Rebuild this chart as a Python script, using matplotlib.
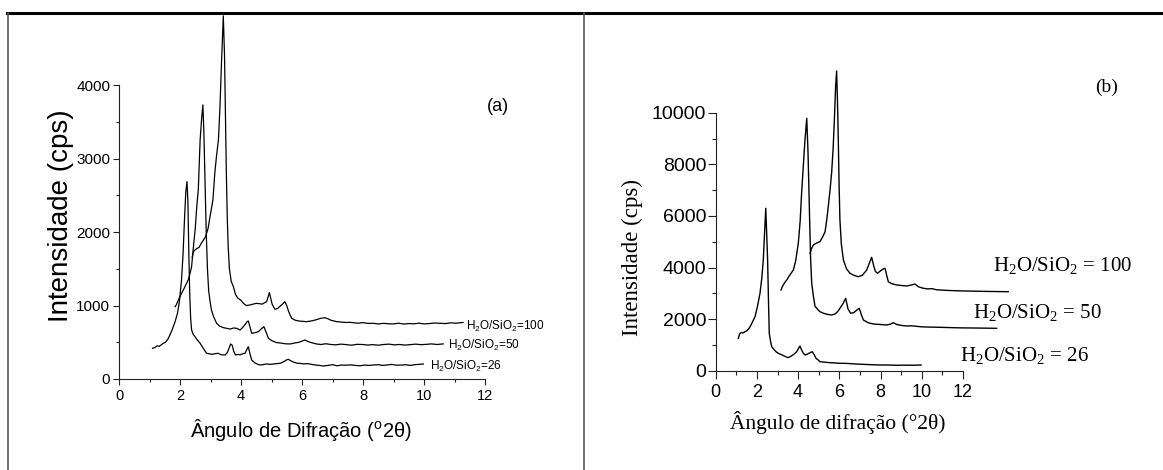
import matplotlib
matplotlib.use("Agg")
import matplotlib.pyplot as plt
from matplotlib.lines import Line2D
from matplotlib.ticker import MultipleLocator

plt.rcParams['font.family'] = ['Liberation Sans', 'DejaVu Sans']
plt.rcParams['mathtext.default'] = 'regular'

SERIF = ['Liberation Serif', 'DejaVu Serif']

# ---- panel (a): XRD patterns (2theta, cps) ----
a_26 = [(1.10, 418), (1.18, 430), (1.25, 452), (1.32, 445), (1.40, 470), (1.45, 486), (1.52, 500),
        (1.60, 540), (1.67, 599), (1.75, 680), (1.84, 781), (1.92, 900), (1.98, 1053), (2.05, 1349),
        (2.10, 1700), (2.15, 2200), (2.19, 2550), (2.23, 2688), (2.26, 2400), (2.29, 1700),
        (2.32, 1150), (2.35, 820), (2.38, 668), (2.43, 610), (2.49, 577), (2.57, 530), (2.66, 486),
        (2.76, 420), (2.87, 350), (2.95, 345), (3.05, 335), (3.15, 345), (3.25, 350), (3.35, 330),
        (3.48, 327), (3.55, 360), (3.61, 420), (3.66, 477), (3.71, 460), (3.76, 380), (3.82, 327),
        (3.90, 335), (3.98, 330), (4.06, 345), (4.13, 350), (4.19, 400), (4.24, 440), (4.29, 350),
        (4.35, 259), (4.45, 220), (4.55, 200), (4.62, 191), (4.72, 195), (4.83, 205), (4.95, 200),
        (5.06, 204), (5.18, 210), (5.30, 215), (5.42, 240), (5.50, 262), (5.56, 268), (5.62, 250),
        (5.72, 230), (5.84, 215), (5.94, 213), (6.05, 205), (6.18, 210), (6.30, 200), (6.45, 190),
        (6.58, 185), (6.70, 177), (6.85, 185), (7.00, 195), (7.15, 180), (7.30, 190), (7.45, 188),
        (7.60, 192), (7.75, 185), (7.90, 180), (8.05, 190), (8.20, 185), (8.34, 191), (8.50, 195),
        (8.65, 185), (8.80, 192), (8.95, 198), (9.10, 188), (9.25, 190), (9.40, 194), (9.55, 185),
        (9.70, 195), (9.85, 200), (9.98, 204)]

a_50 = [(1.84, 985), (1.88, 1010), (1.95, 1080), (2.03, 1150), (2.11, 1213), (2.20, 1290),
        (2.27, 1349), (2.33, 1440), (2.38, 1530), (2.44, 1800), (2.50, 2050), (2.55, 2350),
        (2.60, 2575), (2.66, 3256), (2.71, 3550), (2.75, 3733), (2.78, 3400), (2.82, 2700),
        (2.86, 2000), (2.90, 1500), (2.94, 1200), (2.98, 1076), (3.03, 940), (3.10, 850), (3.20, 759),
        (3.30, 720), (3.42, 700), (3.53, 690), (3.65, 680), (3.76, 695), (3.86, 690), (3.97, 667),
        (4.05, 700), (4.13, 740), (4.20, 781), (4.24, 790), (4.30, 700), (4.35, 622), (4.45, 630),
        (4.57, 645), (4.66, 680), (4.75, 713), (4.82, 640), (4.90, 554), (5.02, 520), (5.17, 495),
        (5.30, 490), (5.45, 480), (5.61, 477), (5.75, 490), (5.90, 500), (6.02, 520), (6.10, 531),
        (6.20, 510), (6.35, 490), (6.48, 477), (6.62, 470), (6.78, 480), (6.95, 470), (7.10, 465),
        (7.28, 475), (7.45, 468), (7.62, 460), (7.80, 472), (7.98, 470), (8.15, 462), (8.32, 468),
        (8.50, 460), (8.68, 470), (8.85, 475), (9.02, 465), (9.20, 470), (9.38, 462), (9.55, 468),
        (9.72, 475), (9.90, 468), (10.08, 472), (10.25, 478), (10.42, 470), (10.63, 478)]

a_100 = [(2.40, 1660), (2.44, 1735), (2.50, 1760), (2.56, 1780), (2.62, 1790), (2.70, 1850),
         (2.78, 1900), (2.84, 1939), (2.92, 2050), (3.00, 2250), (3.08, 2439), (3.14, 2800),
         (3.20, 3050), (3.26, 3256), (3.31, 3700), (3.36, 4300), (3.42, 4946), (3.46, 4400),
         (3.49, 3600), (3.52, 2800), (3.55, 2200), (3.58, 1800), (3.62, 1500), (3.68, 1330),
         (3.75, 1258), (3.82, 1150), (3.90, 1100), (3.99, 1076), (4.08, 1030), (4.18, 1000),
         (4.29, 1008), (4.40, 1020), (4.50, 1030), (4.60, 1026), (4.70, 1020), (4.78, 1040),
         (4.84, 1053), (4.89, 1120), (4.93, 1176), (4.98, 1090), (5.02, 1020), (5.11, 950),
         (5.20, 960), (5.28, 990), (5.36, 1020), (5.44, 1053), (5.50, 1000), (5.56, 920), (5.66, 827),
         (5.78, 800), (5.90, 790), (6.02, 785), (6.15, 781), (6.30, 790), (6.45, 805), (6.60, 825),
         (6.75, 835), (6.85, 820), (6.95, 800), (7.05, 790), (7.14, 781), (7.30, 775), (7.45, 770),
         (7.57, 772), (7.70, 765), (7.85, 760), (8.00, 768), (8.17, 757), (8.34, 759), (8.50, 750),
         (8.67, 758), (8.84, 752), (9.00, 750), (9.17, 760), (9.34, 748), (9.50, 755), (9.67, 752),
         (9.84, 760), (10.00, 750), (10.17, 755), (10.34, 762), (10.52, 759), (10.70, 755),
         (10.88, 765), (11.05, 760), (11.28, 770)]

# ---- panel (b) ----
b_26 = [(1.10, 1256), (1.15, 1400), (1.18, 1450), (1.25, 1480), (1.32, 1460), (1.42, 1512),
        (1.50, 1540), (1.58, 1600), (1.67, 1705), (1.78, 1880), (1.91, 2093), (2.03, 2500),
        (2.15, 3000), (2.24, 3600), (2.31, 4290), (2.37, 5300), (2.43, 6294), (2.48, 5200),
        (2.52, 4290), (2.56, 2800), (2.60, 1450), (2.66, 1150), (2.72, 930), (2.85, 800), (2.95, 720),
        (3.04, 674), (3.20, 620), (3.35, 560), (3.52, 504), (3.65, 560), (3.77, 620), (3.85, 674),
        (3.95, 760), (4.02, 870), (4.09, 957), (4.16, 820), (4.25, 680), (4.34, 608), (4.45, 640),
        (4.58, 700), (4.69, 736), (4.78, 620), (4.88, 470), (4.98, 415), (5.06, 349), (5.30, 330),
        (5.55, 310), (5.80, 300), (6.03, 287), (6.30, 285), (6.60, 270), (6.90, 255), (7.20, 245),
        (7.50, 235), (7.98, 221), (8.40, 220), (8.80, 210), (9.20, 215), (9.60, 212), (9.97, 221)]

b_50 = [(3.17, 3128), (3.23, 3250), (3.30, 3350), (3.38, 3450), (3.45, 3516), (3.55, 3650),
        (3.66, 3780), (3.77, 3903), (3.88, 4250), (4.01, 4938), (4.10, 5800), (4.17, 6876),
        (4.25, 7900), (4.33, 8900), (4.42, 9783), (4.48, 8500), (4.53, 6876), (4.57, 5500),
        (4.61, 4290), (4.66, 3400), (4.74, 2900), (4.82, 2500), (4.98, 2350), (5.06, 2287),
        (5.25, 2220), (5.45, 2180), (5.63, 2159), (5.80, 2200), (5.93, 2300), (6.03, 2418),
        (6.18, 2600), (6.31, 2806), (6.42, 2400), (6.55, 2225), (6.70, 2250), (6.85, 2350),
        (6.97, 2418), (7.08, 2150), (7.17, 1965), (7.40, 1860), (7.65, 1810), (8.00, 1790),
        (8.30, 1771), (8.50, 1810), (8.62, 1860), (8.80, 1790), (9.05, 1750), (9.27, 1733),
        (9.50, 1740), (9.75, 1720), (10.00, 1700), (10.40, 1690), (10.89, 1682), (11.40, 1670),
        (11.90, 1660), (12.50, 1655), (13.00, 1650), (13.64, 1643)]

b_100 = [(4.58, 4550), (4.66, 4750), (4.74, 4872), (4.90, 4950), (5.06, 5000), (5.20, 5200),
         (5.31, 5388), (5.39, 5841), (5.47, 6400), (5.55, 7000), (5.63, 7700), (5.70, 8600),
         (5.76, 9700), (5.82, 11000), (5.87, 11616), (5.91, 10500), (5.95, 9000), (5.99, 7200),
         (6.03, 5841), (6.10, 4900), (6.20, 4290), (6.35, 3950), (6.52, 3775), (6.70, 3700),
         (6.92, 3643), (7.12, 3700), (7.33, 3903), (7.45, 4150), (7.57, 4395), (7.66, 4100),
         (7.75, 3850), (7.85, 3775), (7.95, 3840), (8.06, 3903), (8.15, 3950), (8.22, 3969),
         (8.30, 3700), (8.38, 3450), (8.55, 3370), (8.79, 3322), (9.05, 3300), (9.27, 3283),
         (9.50, 3320), (9.67, 3360), (9.85, 3250), (10.08, 3194), (10.30, 3170), (10.50, 3180),
         (10.70, 3140), (10.89, 3128), (11.30, 3110), (11.80, 3095), (12.40, 3085), (13.00, 3075),
         (13.60, 3068), (14.20, 3062)]

ratios = ['26', '50', '100']

W, H = 1163, 470
fig = plt.figure(figsize=(W / 100, H / 100), dpi=100)


def fx(x):
    return x / W


def fy(y):
    return 1 - y / H


# table-like frame around the two panels
fig.add_artist(Line2D([fx(7), 1], [fy(13), fy(13)], color='black', lw=2.2))
fig.add_artist(Line2D([fx(8), fx(8)], [0, fy(13)], color='#555555', lw=1.2))
fig.add_artist(Line2D([fx(583.5), fx(583.5)], [0, fy(13)], color='#555555', lw=1.2))


def style_axes(ax, ymax, yminor, labelsize, major_len, minor_len, xpad, ypad):
    ax.set_xlim(0, 12)
    ax.set_ylim(0, ymax)
    for s in ('top', 'right'):
        ax.spines[s].set_visible(False)
    for s in ('left', 'bottom'):
        ax.spines[s].set_linewidth(0.8)
        ax.spines[s].set_color('#222222')
    ax.xaxis.set_major_locator(MultipleLocator(2))
    ax.xaxis.set_minor_locator(MultipleLocator(1))
    ax.yaxis.set_minor_locator(MultipleLocator(yminor))
    ax.tick_params(which='both', direction='out', width=0.8, color='#222222',
                   labelsize=labelsize)
    ax.tick_params(which='major', length=major_len)
    ax.tick_params(which='minor', length=minor_len)
    ax.tick_params(axis='x', pad=xpad)
    ax.tick_params(axis='y', pad=ypad)
    ax.patch.set_alpha(0)


# ---- left panel ----
axa = fig.add_axes([fx(119), fy(379), fx(485) - fx(119), fy(85.3) - fy(379)])
for pts in (a_26, a_50, a_100):
    xs, ys = zip(*pts)
    axa.plot(xs, ys, color='black', lw=0.9, clip_on=False)
style_axes(axa, 4000, 500, 10.5, 4.3, 2.0, 3, 2)
axa.yaxis.set_major_locator(MultipleLocator(1000))
axa.tick_params(axis='y', labelsize=11)

a_label_pos = [(10.2, 123), (10.8, 409), (11.38, 668)]
for r, (lx, ly) in zip(ratios, a_label_pos):
    axa.text(lx, ly, r'H$_2$O/SiO$_2$=' + r, fontsize=8.5, ha='left', va='baseline',
             clip_on=False)
axa.text(12.43, 3706, '(a)', fontsize=13, ha='center', va='center', clip_on=False)

fig.text(fx(61), fy(216), 'Intensidade (cps)', rotation=90, fontsize=20,
         ha='center', va='center')
fig.text(fx(301), fy(430), r'Ângulo de Difração ($^{o}$2θ)', fontsize=14.5,
         ha='center', va='center')

# ---- right panel ----
axb = fig.add_axes([fx(715.7), fy(370.7), fx(962.9) - fx(715.7), fy(112.7) - fy(370.7)])
for pts in (b_26, b_50, b_100):
    xs, ys = zip(*pts)
    axb.plot(xs, ys, color='black', lw=1.0, clip_on=False)
style_axes(axb, 10000, 1000, 13, 5.8, 3.2, 4, 1)
axb.yaxis.set_major_locator(MultipleLocator(2000))
axb.tick_params(axis='y', labelsize=14)

b_label_pos = [(11.84, 376), (12.47, 2043), (13.46, 3864)]
for r, (lx, ly) in zip(ratios, b_label_pos):
    axb.text(lx, ly, r'H$_2$O/SiO$_2$ = ' + r, fontsize=15, family=SERIF,
             ha='left', va='baseline', clip_on=False)
axb.text(18.95, 10990, '(b)', fontsize=14, family=SERIF, ha='center', va='center',
         clip_on=False)

fig.text(fx(632), fy(258), 'Intensidade (cps)', rotation=90, fontsize=16.5, family=SERIF,
         ha='center', va='center')
fig.text(fx(838), fy(423), 'Ângulo de difração (°2θ)', fontsize=15.5, family=SERIF,
         ha='center', va='center')

fig.savefig('out.png', dpi=100)
